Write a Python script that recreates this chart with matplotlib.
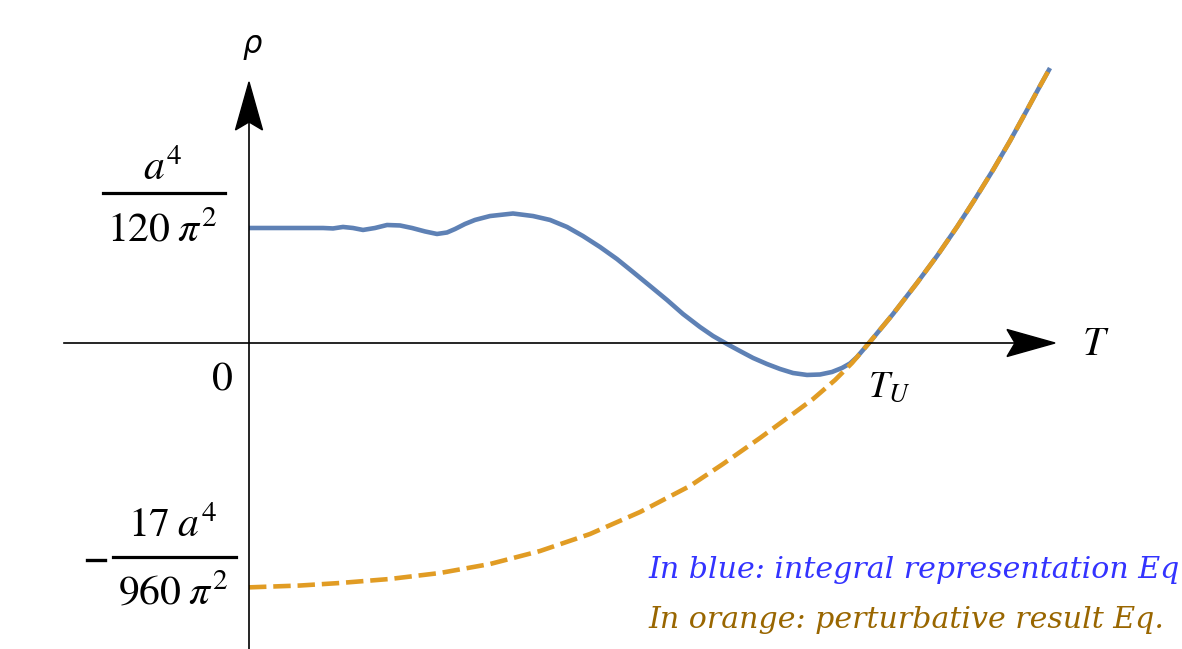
import matplotlib
matplotlib.use('Agg')
import matplotlib.pyplot as plt
from matplotlib.patches import Polygon
from matplotlib.transforms import Affine2D
from matplotlib.lines import Line2D

plt.rcParams['mathtext.fontset'] = 'stix'

# ---- data (T in units of T_U, rho in units of a^4/(120 pi^2)) ----
T_blue = [0.0, 0.1194, 0.1355, 0.1516, 0.1677, 0.1839, 0.2032, 0.2226, 0.2435, 0.2629,
          0.2839, 0.3032, 0.3194, 0.3323, 0.3484, 0.3645, 0.3887, 0.4258, 0.4581, 0.4855,
          0.5129, 0.5387, 0.5661, 0.5935, 0.6194, 0.6468, 0.6742, 0.7, 0.7274, 0.7484,
          0.7710, 0.7919, 0.8129, 0.8355, 0.8565, 0.8774, 0.9, 0.9210, 0.9403, 0.9565,
          0.9694, 0.9806, 0.9903, 1.0, 1.0387, 1.0774, 1.1097, 1.1419, 1.1710, 1.2,
          1.2274, 1.2548, 1.2758, 1.2919]
rho_blue = [1.0, 1.0, 0.996, 1.009, 1.0, 0.983, 1.0, 1.026, 1.022, 1.0,
            0.970, 0.948, 0.961, 0.991, 1.035, 1.070, 1.104, 1.126, 1.104, 1.070,
            1.009, 0.930, 0.835, 0.730, 0.617, 0.496, 0.374, 0.252, 0.139, 0.061,
            -0.009, -0.070, -0.130, -0.183, -0.226, -0.261, -0.278, -0.274, -0.252, -0.217,
            -0.178, -0.122, -0.061, 0.0, 0.252, 0.522, 0.757, 1.009, 1.252, 1.504,
            1.757, 2.026, 2.235, 2.391]

T_orange = [0.0, 0.0823, 0.1468, 0.2274, 0.3081, 0.3887, 0.4694, 0.55, 0.6306, 0.7113,
            0.7645, 0.8242, 0.8726, 0.9097, 0.9452, 0.9726, 1.0, 1.0387, 1.0774, 1.1097,
            1.1419, 1.1710, 1.2, 1.2274, 1.2548, 1.2758, 1.2919]
rho_orange = [-2.125, -2.109, -2.087, -2.052, -2.0, -1.922, -1.809, -1.661, -1.470, -1.243,
              -1.052, -0.826, -0.635, -0.487, -0.322, -0.174, 0.0, 0.252, 0.522, 0.757,
              1.009, 1.252, 1.504, 1.757, 2.026, 2.235, 2.391]

legend_lines = ["In blue: integral representation Eq",
                "In orange: perturbative result Eq."]

# ---- figure ----
W, H = 1182, 649
fig = plt.figure(figsize=(W / 100, H / 100), dpi=100)
ax = fig.add_axes([0, 0, 1, 1])
ax.set_xlim(-0.4016, 1.5048)
ax.set_ylim(-2.661, 2.9826)
ax.axis('off')

def fx(px):
    return px / W

def fy(py):
    return 1 - py / H

BLUE = '#5E81B5'
ORANGE = '#E19C24'

ax.plot(T_blue, rho_blue, color=BLUE, lw=3.3, solid_capstyle='butt',
        solid_joinstyle='round', zorder=2)
ax.plot(T_orange, rho_orange, color=ORANGE, lw=3.3, dashes=(3.8, 1.5),
        dash_joinstyle='round', zorder=3)

# axes lines
x_start, x_end = -0.298, 1.30
y_end = 2.27
ax.plot([x_start, x_end - 0.03], [0, 0], color='black', lw=1.2, zorder=4)
ax.plot([0, 0], [-2.8, y_end - 0.15], color='black', lw=1.2, zorder=4)

def arrowhead(tip, angle):
    px, py = ax.transData.transform(tip)
    verts = [(0, 0), (-48, 13.5), (-40, 0), (-48, -13.5)]
    tr = Affine2D().rotate_deg(angle).translate(px, py)
    poly = Polygon(verts, closed=True, color='black', transform=tr, zorder=5)
    fig.add_artist(poly)

arrowhead((x_end, 0), 0)
arrowhead((0, y_end), 90)

# axis labels
fig.text(fx(252), fy(46), '\u03c1', fontsize=22, ha='center', va='center',
         family='DejaVu Sans', style='italic')
fig.text(fx(1096), fy(344), r'$T$', fontsize=29, ha='center', va='center')
fig.text(fx(889), fy(387), r'$T_U$', fontsize=27, ha='center', va='center')

# y tick labels
fs = 30
fig.text(fx(163), fy(168), r'$a^4$', fontsize=fs, ha='center', va='center')
fig.add_artist(Line2D([fx(103), fx(225)], [fy(193), fy(193)], color='black', lw=2.3))
fig.text(fx(162), fy(230), r'$120\;\pi^2$', fontsize=fs, ha='center', va='center')

fig.text(fx(222), fy(377), r'$0$', fontsize=fs, ha='center', va='center')

fig.add_artist(Line2D([fx(87), fx(105)], [fy(560), fy(560)], color='black', lw=2.4))
fig.text(fx(173), fy(525), r'$17\;a^4$', fontsize=fs, ha='center', va='center')
fig.add_artist(Line2D([fx(113), fx(236)], [fy(557), fy(557)], color='black', lw=2.3))
fig.text(fx(173), fy(593), r'$960\;\pi^2$', fontsize=fs, ha='center', va='center')

# legend text
fig.text(fx(648), fy(578), legend_lines[0], fontsize=21.6, color='#3333FF',
         family='DejaVu Serif', style='italic', ha='left', va='baseline')
fig.text(fx(648), fy(628), legend_lines[1], fontsize=21.6, color='#996600',
         family='DejaVu Serif', style='italic', ha='left', va='baseline')

fig.savefig('out.png', dpi=100)
